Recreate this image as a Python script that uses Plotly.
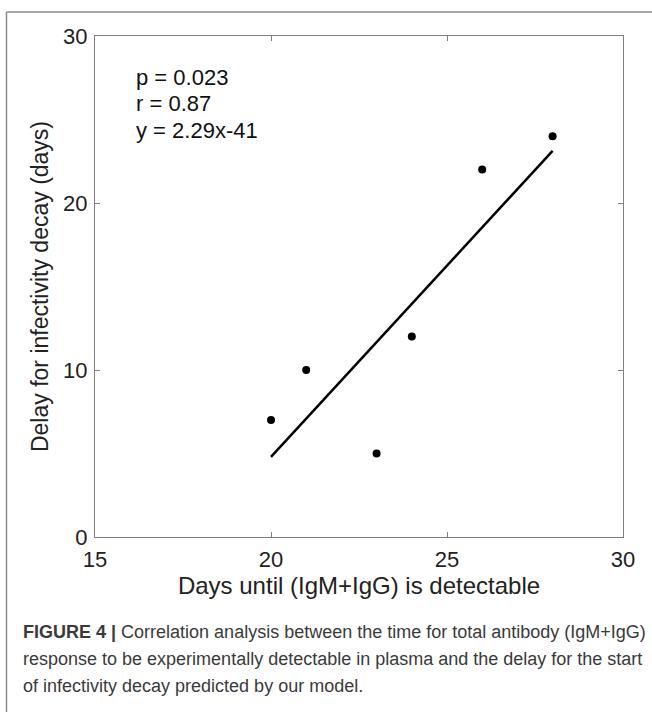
import plotly.graph_objects as go

# Data
days_detectable = [20, 21, 23, 24, 26, 28]
delay_decay = [7, 10, 5, 12, 22, 24]
fit_slope = 2.29
fit_intercept = -41
fit_x = [20, 28]
fit_y = [fit_slope * v + fit_intercept for v in fit_x]
stats_lines = ["p = 0.023", "r = 0.87", "y = 2.29x-41"]
x_ticks = [15, 20, 25, 30]
y_ticks = [0, 10, 20, 30]
caption_lines = [
    "<b>FIGURE 4 |</b> Correlation analysis between the time for total antibody (IgM+IgG)",
    "response to be experimentally detectable in plasma and the delay for the start",
    "of infectivity decay predicted by our model.",
]

W, H = 652, 712
L, R, T, B = 95, 623, 36, 537

def px(x):
    return (x - L) / (R - L)

def py(y):
    return (B - y) / (B - T)

fig = go.Figure()
fig.add_trace(go.Scatter(x=fit_x, y=fit_y, mode="lines",
                         line=dict(color="black", width=2.5), showlegend=False))
fig.add_trace(go.Scatter(x=days_detectable, y=delay_decay, mode="markers",
                         marker=dict(color="black", size=8), showlegend=False))

font = "Liberation Sans, Arial, sans-serif"
axis_common = dict(showgrid=False, zeroline=False, showline=True, linecolor="#808080",
                   linewidth=1, mirror="ticks", ticks="inside", ticklen=5,
                   tickcolor="#808080", tickfont=dict(family=font, size=22, color="#222"))

fig.update_xaxes(range=[15, 30], tickvals=x_ticks, ticklabelstandoff=3,
                 title=dict(text="Days until (IgM+IgG) is detectable",
                            font=dict(family=font, size=24, color="#222"), standoff=4),
                 **axis_common)
fig.update_yaxes(range=[0, 30], tickvals=y_ticks, ticklabelstandoff=2,
                 title=dict(text="Delay for infectivity decay (days)",
                            font=dict(family=font, size=23, color="#222"), standoff=8),
                 **axis_common)

annotations = []
for i, s in enumerate(stats_lines):
    annotations.append(dict(text=s, x=px(134), y=py(77 + i * 26.5), xref="paper", yref="paper",
                            xanchor="left", yanchor="middle", showarrow=False,
                            font=dict(family=font, size=22, color="#111")))
for i, s in enumerate(caption_lines):
    annotations.append(dict(text=s, x=px(21), y=py(632 + i * 27), xref="paper", yref="paper",
                            xanchor="left", yanchor="middle", showarrow=False,
                            font=dict(family=font, size=18, color="#3a3a3a")))

shapes = [
    dict(type="line", xref="paper", yref="paper", x0=px(6.5), x1=px(6.5), y0=py(12), y1=py(712),
         line=dict(color="#8a8a8a", width=1.5)),
    dict(type="line", xref="paper", yref="paper", x0=px(6.5), x1=px(652), y0=py(12), y1=py(12),
         line=dict(color="#8a8a8a", width=1.5)),
]

fig.update_layout(width=W, height=H, margin=dict(l=L, r=W - R, t=T, b=H - B),
                  plot_bgcolor="white", paper_bgcolor="white",
                  annotations=annotations, shapes=shapes)

fig.write_html("out.html")
